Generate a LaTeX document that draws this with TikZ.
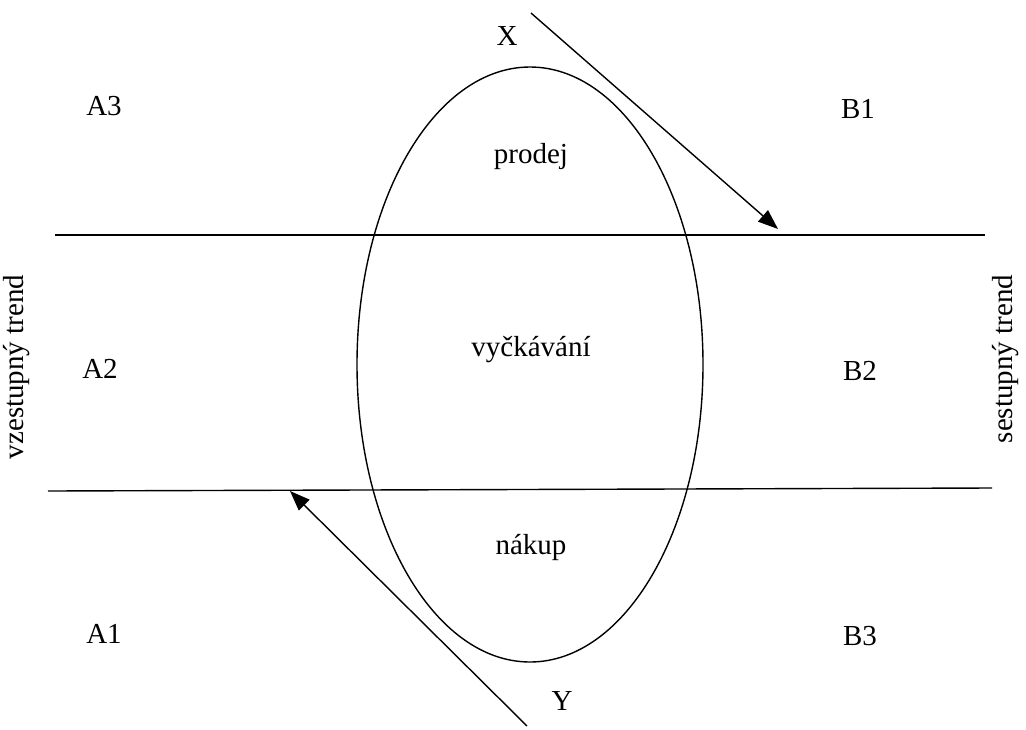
\documentclass[tikz,border=0pt]{standalone}
\usepackage{fontspec}
\setmainfont{Liberation Serif}
\usetikzlibrary{arrows.meta,shapes.geometric}

\begin{document}
\begin{tikzpicture}[x=1pt, y=-1pt, font=\fontsize{29}{33}\selectfont, line width=1.4pt,
  tag/.style={inner sep=1pt},
  zone/.style={draw, ellipse, inner sep=0pt, minimum width=346pt, minimum height=595pt},
  arrow/.style={-{Triangle[length=20pt,width=15pt]}}]
\useasboundingbox (0,0) rectangle (1026,729);
\node[zone] (cycle) at (530,364.5) {};
% boundaries
\coordinate (upL) at (55,235);
\coordinate (upR) at (985,235);
\coordinate (loL) at (48,491);
\coordinate (loR) at (992,488);
\draw (upL) -- (upR);
\draw (loL) -- (loR);
% arrows
\coordinate (xs) at (531,13);
\coordinate (xe) at (778,229);
\coordinate (ys) at (527,726);
\coordinate (ye) at (290,491);
\draw[arrow] (xs) -- (xe);
\draw[arrow] (ys) -- (ye);
% labels
\node[tag] (x) at (507,36) {X};
\node[tag] (y) at (562,701) {Y};
\node[tag] (prodej) at (531,157) {prodej};
\node[tag] (wait) at (531,350) {vyčkávání};
\node[tag] (nakup) at (531,547) {nákup};
\node[tag] (a3) at (104,106) {A3};
\node[tag] (a2) at (100,369) {A2};
\node[tag] (a1) at (104,634) {A1};
\node[tag] (b1) at (858,109) {B1};
\node[tag] (b2) at (860,371) {B2};
\node[tag] (b3) at (860,636) {B3};
\node[tag, rotate=90] (up) at (17,367) {vzestupný trend};
\node[tag, rotate=90] (down) at (1006,359) {sestupný trend};
\end{tikzpicture}
\end{document}
